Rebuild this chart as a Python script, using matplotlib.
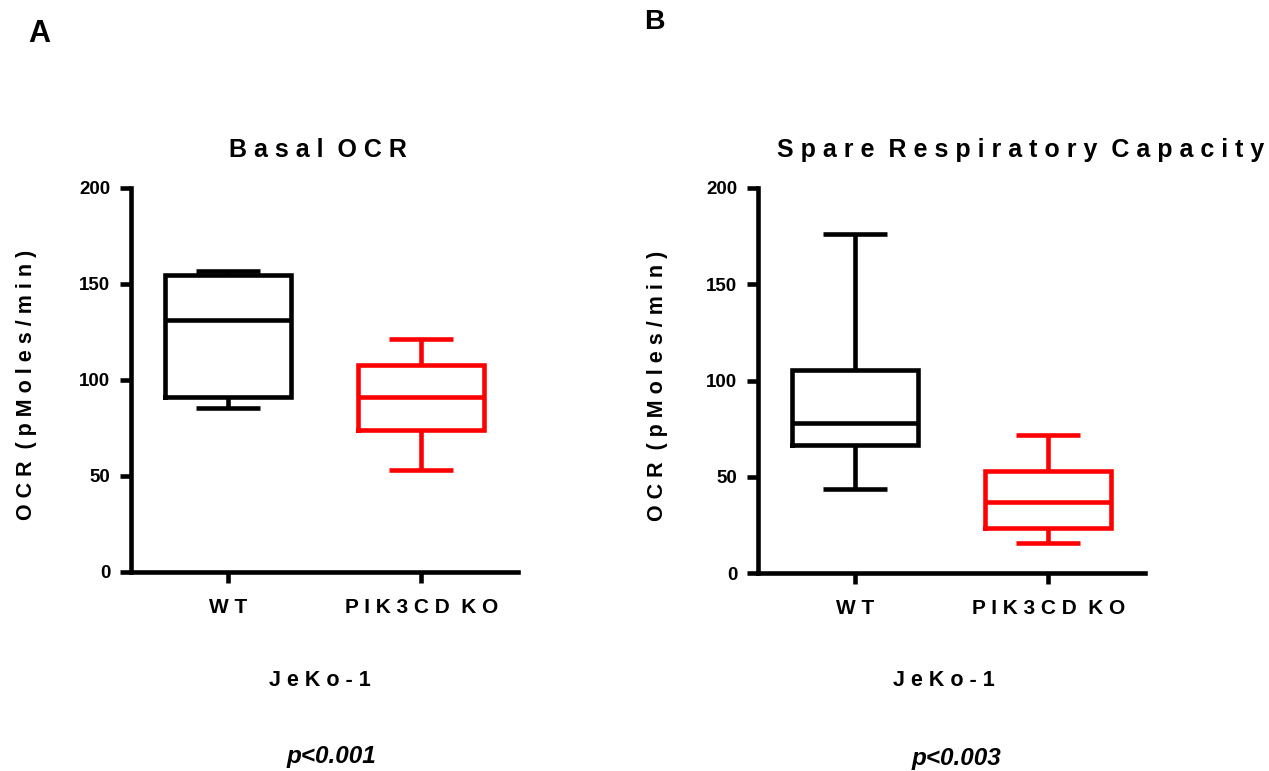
import matplotlib
matplotlib.use("Agg")
import matplotlib.pyplot as plt

# Box-plot summaries (whisker low, Q1, median, Q3, whisker high), OCR in pMoles/min
categories = ["W T", "P I K 3 C D  K O"]
basal_wt = [85.5, 91.0, 131.0, 154.5, 157.0]
basal_ko = [53.0, 74.0, 91.0, 108.0, 121.5]
spare_wt = [43.5, 66.5, 78.0, 105.5, 176.0]
spare_ko = [15.5, 23.5, 37.0, 53.0, 71.5]
yticks = [0, 50, 100, 150, 200]
colors = ["#000000", "#ff0000"]

W, H = 1269, 771
LW = 3.3
FONT = "Liberation Sans"

plt.rcParams["font.family"] = [FONT, "DejaVu Sans"]
plt.rcParams["font.weight"] = "bold"

fig = plt.figure(figsize=(W / 100, H / 100), dpi=100)


def px_axes(x0, y0, x1, y1):
    return fig.add_axes([x0 / W, 1 - y1 / H, (x1 - x0) / W, (y1 - y0) / H])


def stats(v):
    lo, q1, med, q3, hi = v
    return dict(whislo=lo, q1=q1, med=med, q3=q3, whishi=hi, fliers=[])


def panel(ax, series, title, title_x, ylabel_x):
    for i, (vals, c) in enumerate(zip(series, colors)):
        props = dict(color=c, linewidth=LW, solid_capstyle="butt")
        ax.bxp([stats(vals)], positions=[i], widths=0.65, capwidths=0.33,
               showfliers=False, patch_artist=False,
               boxprops=dict(color=c, linewidth=LW, solid_joinstyle="miter"),
               medianprops=props, whiskerprops=props, capprops=props)
    ax.set_xlim(-0.5, 1.5)
    ax.set_ylim(0, 200)
    ax.set_yticks(yticks)
    ax.set_yticklabels([str(t) for t in yticks])
    ax.set_xticks([0, 1])
    ax.set_xticklabels(categories)
    for s in ("top", "right"):
        ax.spines[s].set_visible(False)
    for s in ("left", "bottom"):
        ax.spines[s].set_linewidth(LW)
        ax.spines[s].set_capstyle("projecting")
    ax.tick_params(axis="y", length=8, width=LW, pad=7, labelsize=13.5)
    ax.tick_params(axis="x", length=8, width=LW, pad=11, labelsize=15)
    for lab in ax.get_xticklabels() + ax.get_yticklabels():
        lab.set_fontweight("bold")
    ax.set_ylabel("O C R  ( p M o l e s / m i n )", fontsize=15.5,
                  fontweight="bold")
    ax.yaxis.set_label_coords(ylabel_x, 0.487)
    ax.set_title(title, fontsize=18, fontweight="bold", pad=22.5, x=title_x)


ax_a = px_axes(131, 188, 518, 572)
panel(ax_a, [basal_wt, basal_ko], "B a s a l  O C R", 0.482, -0.243)

ax_b = px_axes(758, 188, 1145, 573)
panel(ax_b, [spare_wt, spare_ko],
      "S p a r e  R e s p i r a t o r y  C a p a c i t y", 0.678, -0.233)


def ftext(x, y, s, **kw):
    fig.text(x / W, 1 - y / H, s, ha="center", va="center", **kw)


ftext(39.5, 34, "A", fontsize=22, fontweight="bold")
ftext(654.5, 22, "B", fontsize=20.5, fontweight="bold")
ftext(320, 680, "J e K o - 1", fontsize=15.5, fontweight="bold")
ftext(944, 681, "J e K o - 1", fontsize=15.5, fontweight="bold")
ftext(331, 757, "p<0.001", fontsize=17.5, fontweight="bold", style="italic")
ftext(956, 759, "p<0.003", fontsize=17.5, fontweight="bold", style="italic")

fig.savefig("out.png", dpi=100)
